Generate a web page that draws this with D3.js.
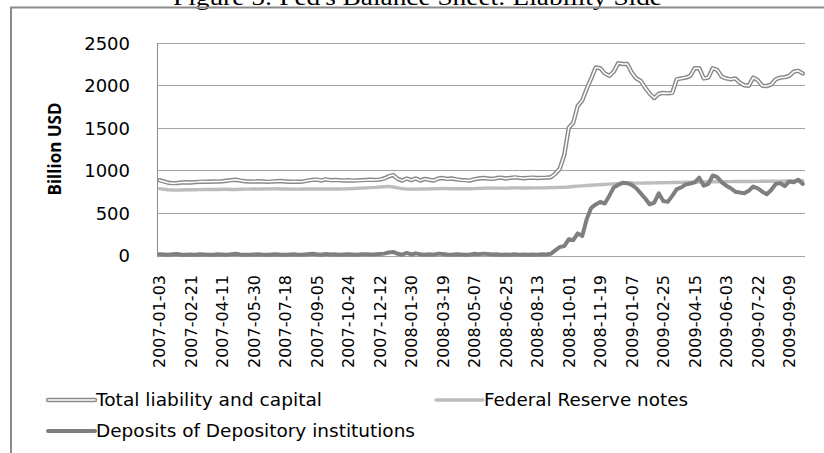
<!DOCTYPE html>
<html><head><meta charset="utf-8">
<script src="https://cdn.jsdelivr.net/npm/d3@7"></script>
<style>body{margin:0;background:#fff}svg{display:block}</style>
</head><body><svg id="c" width="824" height="453"></svg>
<script>
// ---------- data ----------
const titleText = "Figure 5: Fed's Balance Sheet: Liability Side";
const yAxisTitle = "Billion USD";
const startDate = "2007-01-03"; // weekly categories
const tickLabels = ["2007-01-03","2007-02-21","2007-04-11","2007-05-30","2007-07-18","2007-09-05","2007-10-24","2007-12-12","2008-01-30","2008-03-19","2008-05-07","2008-06-25","2008-08-13","2008-10-01","2008-11-19","2009-01-07","2009-02-25","2009-04-15","2009-06-03","2009-07-22","2009-09-09"];
const yTicks = [0, 500, 1000, 1500, 2000, 2500];
const seriesNames = ["Total liability and capital", "Federal Reserve notes", "Deposits of Depository institutions"];

const totalLiability = [
 885,870,855,850,852,858,860,858,862,865,
 868,866,870,868,872,878,885,890,880,872,
 870,868,872,870,865,868,872,875,870,866,
 868,866,870,880,888,892,880,895,885,888,
 885,880,884,880,882,885,888,890,888,892,
 905,930,945,900,880,905,885,905,880,900,
 890,880,905,910,900,905,895,888,885,880,
 895,905,910,905,900,910,915,905,912,918,
 912,908,912,915,910,912,915,920,960,1020,
 1180,1500,1560,1760,1820,1960,2080,2210,2200,2140,
 2110,2160,2260,2250,2250,2150,2080,2050,1970,1900,
 1850,1900,1910,1905,1910,2070,2080,2090,2110,2200,
 2200,2080,2090,2200,2180,2100,2080,2070,2080,2030,
 2000,1995,2090,2060,1995,1990,2010,2070,2090,2095,
 2110,2160,2170,2140];

const fedNotes = [
 785,778,772,770,768,770,772,772,773,774,
 775,776,777,776,778,778,776,776,778,780,
 780,781,780,782,783,783,784,782,781,780,
 780,780,781,782,782,781,782,783,782,783,
 782,783,784,786,790,792,795,798,800,804,
 808,812,805,795,786,782,780,780,781,782,
 783,784,786,788,786,784,784,785,784,784,
 786,788,790,792,793,792,791,792,793,794,
 794,793,793,794,795,795,796,797,798,800,
 802,805,810,815,818,822,826,830,832,835,
 838,842,846,852,855,852,850,850,851,852,
 853,854,855,856,857,858,859,860,862,863,
 864,865,866,866,867,867,868,868,869,869,
 870,870,871,871,872,872,873,873,874,875,
 876,877,878,878];

const deposits = [
 15,12,8,14,18,10,8,12,10,14,
 12,8,10,15,12,10,14,20,12,10,
 8,12,14,10,8,12,15,10,8,12,
 14,10,12,16,20,14,10,18,12,14,
 10,12,15,12,10,14,16,12,14,18,
 22,35,42,20,10,30,12,25,15,8,
 14,10,22,18,12,10,14,12,8,10,
 20,15,22,18,12,14,10,12,8,14,
 10,12,8,12,10,14,12,20,60,100,
 110,190,180,260,230,430,560,600,630,610,
 700,800,830,855,850,830,790,730,670,600,
 620,730,640,630,700,780,800,835,845,860,
 915,820,840,940,920,860,820,790,750,740,
 730,760,810,790,750,720,770,840,850,815,
 870,860,890,840];

// ---------- setup ----------
const svg = d3.select("#c");
const parse = d3.utcParse("%Y-%m-%d"), fmt = d3.utcFormat("%Y-%m-%d");
const dates = totalLiability.map((_, i) => fmt(d3.utcDay.offset(parse(startDate), 7 * i)));

const plot = {left: 157, right: 805, top: 42.7, bottom: 255.5};
const x = d3.scaleBand().domain(dates).range([plot.left, plot.right]);
const bw = x.bandwidth();
const y = d3.scaleLinear().domain([0, 2500]).range([plot.bottom, plot.top]);

svg.append("rect").attr("width", 824).attr("height", 453).attr("fill", "#fff");

// title (cut off at the top)
svg.append("text").attr("x", 173).attr("y", 5)
  .attr("font-family", "Liberation Serif, Times New Roman, serif")
  .attr("font-size", 24).attr("fill", "#000")
  .attr("textLength", 489).attr("lengthAdjust", "spacingAndGlyphs")
  .text(titleText);

// frame
svg.append("path").attr("d", "M11,453V7.5H824").attr("fill", "none")
  .attr("stroke", "#8c8c8c").attr("stroke-width", 2);

// gridlines
svg.append("g").selectAll("line").data(yTicks).join("line")
  .attr("x1", plot.left).attr("x2", plot.right)
  .attr("y1", d => Math.round(y(d)) + 0.5).attr("y2", d => Math.round(y(d)) + 0.5)
  .attr("stroke", "#a3a3a3").attr("stroke-width", 1);

// y axis
const yAxis = svg.append("g").attr("transform", `translate(${plot.left},0)`)
  .call(d3.axisLeft(y).tickValues(yTicks).tickSize(0).tickPadding(27).tickFormat(d3.format("d")));
yAxis.select(".domain").remove();
yAxis.selectAll("text").attr("font-family", "DejaVu Sans, sans-serif").attr("font-size", 18)
  .attr("fill", "#000").attr("dy", "0.36em");
svg.append("line").attr("x1", plot.left + 0.5).attr("x2", plot.left + 0.5)
  .attr("y1", Math.round(y(2500))).attr("y2", Math.round(y(0)) + 1)
  .attr("stroke", "#8c8c8c").attr("stroke-width", 1);

// y axis title
svg.append("text").attr("transform", "translate(55,149) rotate(-90)")
  .attr("text-anchor", "middle").attr("dy", "0.35em")
  .attr("font-family", "Open Sans, sans-serif").attr("font-weight", "bold").attr("font-size", 18)
  .attr("textLength", 93).attr("lengthAdjust", "spacingAndGlyphs")
  .attr("fill", "#000").text(yAxisTitle);

// x axis labels
const xAxis = svg.append("g").attr("transform", `translate(0,${plot.bottom})`)
  .call(d3.axisBottom(x).tickValues(tickLabels).tickSize(0));
xAxis.select(".domain").remove();
xAxis.selectAll("text").attr("transform", "rotate(-90)")
  .attr("x", -19.5).attr("y", 0).attr("dy", "0.36em")
  .attr("text-anchor", "end")
  .attr("font-family", "DejaVu Sans, sans-serif").attr("font-size", 16).attr("fill", "#000");

// lines
const line = d3.line().x((d, i) => x(dates[i]) + bw / 2).y(d => y(d));
const g = svg.append("g").attr("fill", "none").attr("stroke-linejoin", "round").attr("stroke-linecap", "round");
g.append("path").datum(fedNotes).attr("d", line).attr("stroke", "#bdbdbd").attr("stroke-width", 3.4);
g.append("path").datum(deposits).attr("d", line).attr("stroke", "#7f7f7f").attr("stroke-width", 4);
g.append("path").datum(totalLiability).attr("d", line).attr("stroke", "#8a8a8a").attr("stroke-width", 4.4);
g.append("path").datum(totalLiability).attr("d", line).attr("stroke", "#ffffff").attr("stroke-width", 1.5);

// legend
const legend = [
  {name: seriesNames[0], x: 48, y: 400, w: 226, type: "double"},
  {name: seriesNames[1], x: 436, y: 400, w: 204, type: "light"},
  {name: seriesNames[2], x: 48, y: 431, w: 319, type: "dark"}
];
const lg = svg.append("g");
legend.forEach(l => {
  const x1 = l.x, x2 = l.x + 47;
  if (l.type === "double") {
    lg.append("line").attr("x1", x1).attr("x2", x2).attr("y1", l.y).attr("y2", l.y).attr("stroke", "#8a8a8a").attr("stroke-width", 4.4).attr("stroke-linecap", "round");
    lg.append("line").attr("x1", x1).attr("x2", x2).attr("y1", l.y).attr("y2", l.y).attr("stroke", "#fff").attr("stroke-width", 1.5).attr("stroke-linecap", "round");
  } else {
    lg.append("line").attr("x1", x1).attr("x2", x2).attr("y1", l.y).attr("y2", l.y)
      .attr("stroke", l.type === "light" ? "#bdbdbd" : "#7f7f7f").attr("stroke-width", l.type === "light" ? 3.4 : 4).attr("stroke-linecap", "round");
  }
  lg.append("text").attr("x", x2 + 1).attr("y", l.y).attr("dy", "0.36em")
    .attr("font-family", "DejaVu Sans, sans-serif").attr("font-size", 18).attr("fill", "#000")
    .attr("textLength", l.w).attr("lengthAdjust", "spacingAndGlyphs").text(l.name);
});
</script></body></html>
